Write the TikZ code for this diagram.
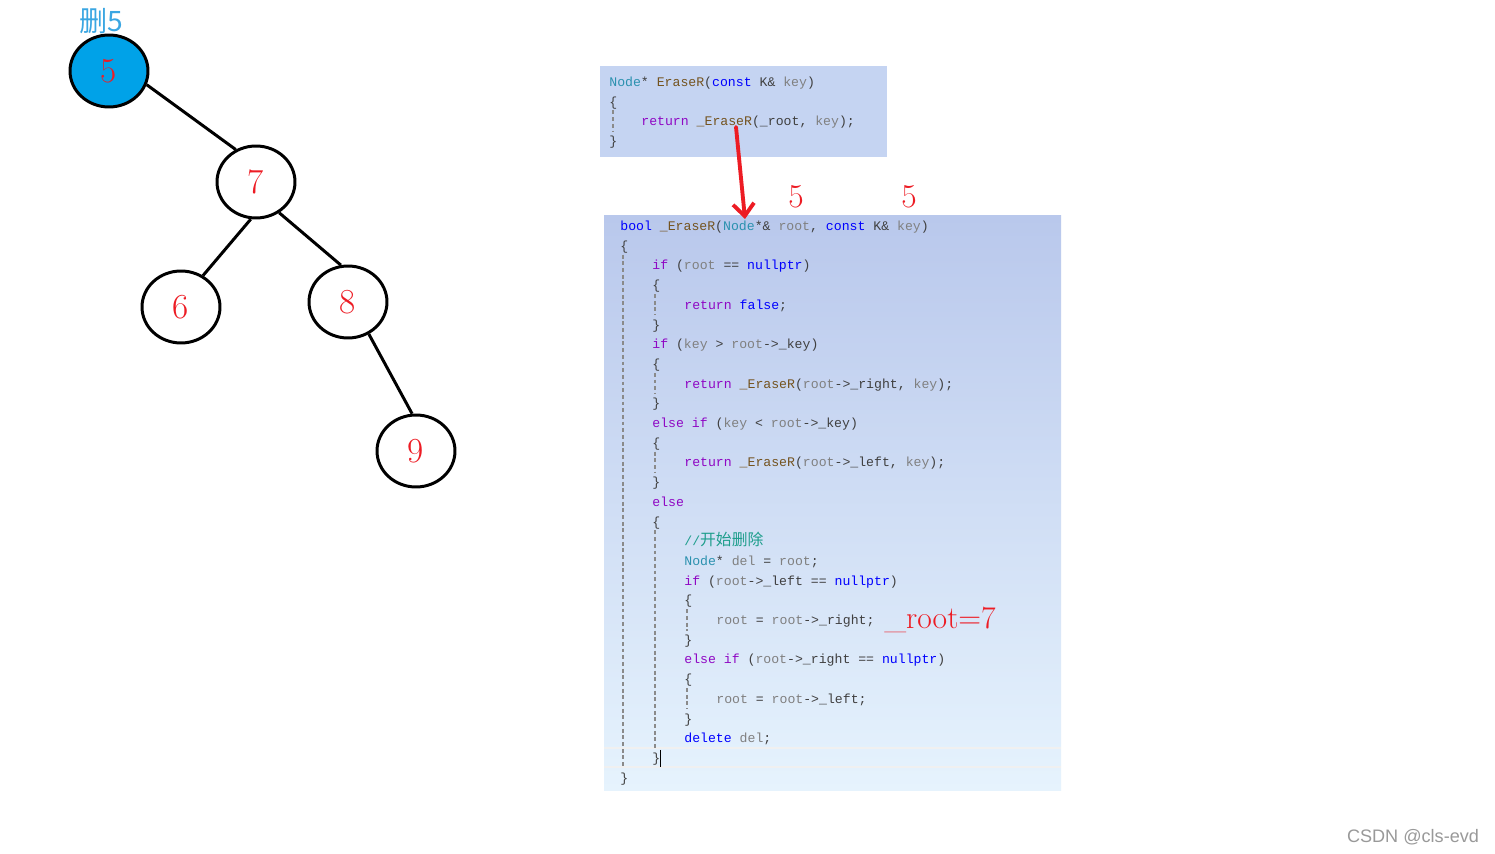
\documentclass[tikz,border=0pt]{standalone}
\usepackage{fontspec}
\newfontfamily\codefont{Liberation Mono}
\newfontfamily\cjk{Noto Sans CJK SC}
\setsansfont{Liberation Sans}
\usetikzlibrary{positioning, arrows.meta, shapes.geometric, calc}

\definecolor{paintred}{HTML}{ED1C24}
\definecolor{nodeblue}{HTML}{00A2E8}
\definecolor{labelblue}{HTML}{3AA6E2}
\definecolor{kwblue}{HTML}{0000FF}
\definecolor{ctlpurple}{HTML}{8F08C4}
\definecolor{vargrey}{HTML}{808080}
\definecolor{typteal}{HTML}{2B91AF}
\definecolor{funbrown}{HTML}{74531F}
\definecolor{cmtgreen}{HTML}{1E9E8C}
\definecolor{boxtop}{HTML}{B9C8EC}
\definecolor{boxbot}{HTML}{E6F3FD}
\definecolor{smallbox}{HTML}{C5D4F2}
\definecolor{guidegrey}{HTML}{8A8A8A}

% token colours
\newcommand\ckw[1]{\textcolor{kwblue}{#1}}
\newcommand\cctl[1]{\textcolor{ctlpurple}{#1}}
\newcommand\cvar[1]{\textcolor{vargrey}{#1}}
\newcommand\ctyp[1]{\textcolor{typteal}{#1}}
\newcommand\cfun[1]{\textcolor{funbrown}{#1}}
\newcommand\ccmt[1]{\textcolor{cmtgreen}{//{\cjk\fontsize{9pt}{9pt}\selectfont #1}}}

\begin{document}
\begin{tikzpicture}[
    x=0.02cm, y=-0.02cm,
    tnode/.style={draw, ellipse, line width=1.7pt, minimum width=1.56cm, minimum height=1.44cm,
        inner sep=0pt, text=paintred, font=\fontsize{20pt}{24pt}\selectfont},
    tedge/.style={line width=1.7pt},
    code/.style={anchor=west, inner sep=0pt, text=black!75, text height=1.6ex, text depth=.4ex,
        font=\codefont\fontsize{7.5pt}{9pt}\selectfont},
    guide/.style={draw=guidegrey, line width=0.6pt, dash pattern=on 2.2pt off 1.6pt},
    note/.style={text=paintred, inner sep=0pt, font=\fontsize{19pt}{22pt}\selectfont}
]
\useasboundingbox[fill=white] (0,0) rectangle (1495,854);

% Albero
\node[tnode, fill=nodeblue] (n5) at (109,71) {5};
\node[tnode] (n7) at (256,182) {7};
\node[tnode] (n6) at (181,307) {6};
\node[tnode] (n8) at (348,302) {8};
\node[tnode] (n9) at (416,451) {9};
\node[text=labelblue, inner sep=0pt, font=\cjk\fontsize{16pt}{18pt}\selectfont] (del) at (101,21) {删5};

\draw[tedge] (n5.-20) -- (n7.122);
\draw[tedge] (n7.-98) -- (n6.55);
\draw[tedge] (n7.-53) -- (n8.101);
\draw[tedge] (n8.-57) -- (n9.96);

% Riquadri del codice
\fill[smallbox] (600,66) rectangle (887,157);
\shade[top color=boxtop, bottom color=boxbot] (604,216) rectangle (1061,790);
\draw[white!88!gray, line width=0.8pt] (604,748) -- (1061,748) (604,767) -- (1061,767);

% EraseR
\foreach \i/\c/\t in {
    0/0/{\ctyp{Node}* \cfun{EraseR}(\ckw{const} K\& \cvar{key})},
    1/0/{\{},
    2/4/{\cctl{return} \cfun{\_EraseR}(\_root, \cvar{key});},
    3/0/{\}}}
  \node[code] (t\i) at ({609+8*\c},{82+19.5*\i}) {\t};

% _EraseR
\foreach \i/\c/\t in {
    0/0/{\ckw{bool} \cfun{\_EraseR}(\ctyp{Node}*\& \cvar{root}, \ckw{const} K\& \cvar{key})},
    1/0/{\{},
    2/4/{\cctl{if} (\cvar{root} == \ckw{nullptr})},
    3/4/{\{},
    4/8/{\cctl{return} \ckw{false};},
    5/4/{\}},
    6/4/{\cctl{if} (\cvar{key} > \cvar{root}->\_key)},
    7/4/{\{},
    8/8/{\cctl{return} \cfun{\_EraseR}(\cvar{root}->\_right, \cvar{key});},
    9/4/{\}},
    10/4/{\cctl{else} \cctl{if} (\cvar{key} < \cvar{root}->\_key)},
    11/4/{\{},
    12/8/{\cctl{return} \cfun{\_EraseR}(\cvar{root}->\_left, \cvar{key});},
    13/4/{\}},
    14/4/{\cctl{else}},
    15/4/{\{},
    16/8/{\ccmt{开始删除}},
    17/8/{\ctyp{Node}* \cvar{del} = \cvar{root};},
    18/8/{\cctl{if} (\cvar{root}->\_left == \ckw{nullptr})},
    19/8/{\{},
    20/12/{\cvar{root} = \cvar{root}->\_right;},
    21/8/{\}},
    22/8/{\cctl{else} \cctl{if} (\cvar{root}->\_right == \ckw{nullptr})},
    23/8/{\{},
    24/12/{\cvar{root} = \cvar{root}->\_left;},
    25/8/{\}},
    26/8/{\ckw{delete} \cvar{del};},
    27/4/{\}},
    28/0/{\}}}
  \node[code] (l\i) at ({620+8*\c},{226+19.7*\i}) {\t};

% Guide di indentazione
\draw[guide] ($(t1.west)+(4,9)$) -- ($(t3.west)+(4,-9)$);
\foreach \a/\b in {1/28, 3/5, 7/9, 11/13, 15/27, 19/21, 23/25}
  \draw[guide] ($(l\a.west)+(3,9)$) -- ($(l\b.west)+(3,-9)$);
\draw[line width=0.8pt] ($(l27.east)+(0,-8)$) -- ($(l27.east)+(0,9)$);

% Annotazioni
\node[note] (k1) at (796,197) {5};
\node[note] (k2) at (909,197) {5};
\node[note, font=\fontsize{18pt}{22pt}\selectfont] (r7) at (940,620) {\_root=7};

\coordinate (arrS) at (736,127);
\coordinate (arrE) at (745,219);
\draw[paintred, line width=2.2pt, line cap=round, -{Straight Barb[length=7pt, width=12pt]}] (arrS) -- (arrE);

\node[text=black!40, inner sep=0pt, font=\sffamily\fontsize{10.3pt}{12pt}\selectfont] (wm) at (1413,837) {CSDN @cls-evd};
\end{tikzpicture}
\end{document}
